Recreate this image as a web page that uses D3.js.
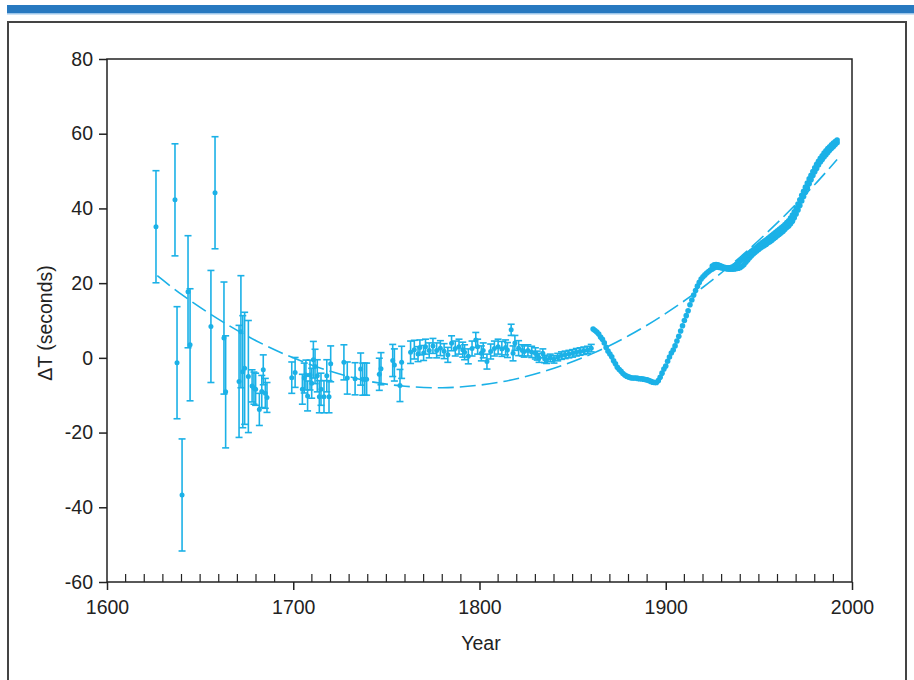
<!DOCTYPE html>
<html lang="en">
<head>
    <meta charset="UTF-8">
    <title>Delta T</title>
    <script src="https://d3js.org/d3.v7.min.js"></script>
    <style>
        body { margin: 0; background: #fff; }
        svg { display: block; }
        text { font-family: "Liberation Sans", Arial, sans-serif; fill: #222; }
    </style>
</head>
<body>
    <div id="chart"></div>

    <script>
        const width = 914;
        const height = 680;
        const col = "#1bb1e7";

        // historical observations with error bars: year, delta T, error
        const obsYears = [1626.3, 1636.5, 1637.6, 1640.3, 1643.5, 1644.6, 1655.8, 1658.0, 1662.8, 1663.7,
            1670.9, 1671.9, 1672.9, 1673.9, 1675.9, 1677.9, 1678.9, 1679.8, 1681.8, 1683.1,
            1683.9, 1685.0, 1685.9,
            1699.2, 1701.0, 1704.9, 1705.9, 1706.8, 1707.7, 1709.0, 1709.9, 1710.8, 1711.7,
            1712.9, 1714.0, 1714.9, 1716.5, 1718.0, 1719.2, 1720.1, 1727.2, 1729.0, 1733.2,
            1736.2, 1737.3, 1738.4, 1739.4, 1746.2, 1747.1, 1753.4, 1754.3, 1757.3, 1758.2,
            1763, 1765, 1767, 1768, 1770, 1771, 1773, 1775, 1777, 1779, 1781, 1783, 1785, 1787,
            1789, 1791, 1792, 1794, 1796, 1798, 1799, 1801, 1802, 1804, 1806, 1808, 1810, 1812,
            1814, 1815, 1817, 1818, 1819, 1821, 1823, 1824, 1826, 1828, 1830, 1831, 1832, 1834,
            1835, 1836, 1838, 1840, 1842, 1844, 1846, 1848, 1850, 1852, 1854, 1856, 1858, 1860];
        const obsValues = [35.1, 42.3, -1.3, -36.7, 17.7, 3.5, 8.4, 44.2, 5.3, -9.1,
            -6.3, 7.0, -3.7, -2.8, -5.0, -7.5, -8.1, -8.4, -13.8, -9.0,
            -3.2, -9.5, -10.6,
            -5.3, -3.9, -8.4, -5.4, -4.6, -10.2, -4.6, -6.8, -0.5, -2.3,
            -4.8, -10.4, -8.4, -10.4, -4.8, -10.4, -1.6, -1.2, -5.4, -5.6,
            -3.0, -5.7, -5.7, -5.7, -4.4, -2.9, -0.7, -1.9, -7.4, -1.2,
            1.5, 2.2, 1.0, 2.8, 1.3, 3.0, 2.0, 3.2, 2.0, 2.6, 1.8, 0.8, 3.9, 2.5,
            3.0, 2.2, 1.5, 0.4, 2.5, 4.8, 3.0, 1.2, 2.0, -1.0, 1.7, 2.5, 3.0, 2.4,
            2.8, 2.1, 7.5, 1.2, 4.0, 2.6, 2.0, 1.7, 2.0, 1.6, 1.2, 0.6, 0.0, 1.2,
            -0.3, -0.5, 0.0, -0.4, 0.2, 0.6, 0.8, 1.0, 1.2, 1.5, 1.7, 1.9, 2.1, 2.6];
        const obsErrors = [15, 15, 15, 15, 15, 15, 15, 15, 15, 15,
            15, 15, 15, 15, 15, 4.3, 4.3, 4.3, 4.3, 4.3,
            4, 4, 4,
            4.2, 4, 4, 4, 4, 4, 4, 4, 4.9, 4.6,
            4.3, 4.3, 4.3, 4.3, 4.3, 4.3, 4.8, 4.7, 4.3, 4.3,
            4.3, 4.3, 4.3, 4.3, 4.3, 4.3, 4.3, 4.3, 4.3, 4.3,
            3, 2.5, 2, 2, 2, 2, 2, 2, 2, 2, 2, 2, 2, 2,
            2, 2, 2, 2, 2, 2, 2, 2, 2, 2, 2, 2, 2, 2,
            2, 2, 1.5, 2, 2, 2, 1.5, 1.5, 1.5, 1.5, 1.5, 1.2, 1.2, 1.2,
            1, 1, 1, 1, 1, 1, 1, 1, 1, 1, 1, 1, 1, 1];

        // annual values 1861-1992
        const modernStart = 1861;
        const modernValues = [7.7, 7.3, 6.9, 6.4, 5.6, 5.0, 4.0, 2.8, 1.8, 1.0,
            0.3, -0.8, -1.6, -2.5, -3.1, -3.6, -4.2, -4.6, -4.9, -5.1,
            -5.3, -5.4, -5.4, -5.4, -5.5, -5.6, -5.6, -5.7, -5.8, -5.9,
            -6.1, -6.3, -6.5, -6.6, -6.6, -6.1, -5.2, -4.1, -3.0, -2.2,
            -0.9, 0.2, 1.3, 2.1, 3.2, 4.5, 5.8, 7.2, 8.6, 10.0,
            11.3, 12.6, 14.2, 15.5, 16.8, 18.0, 19.2, 20.2, 21.1, 21.7,
            22.2, 22.7, 23.1, 23.5, 23.8, 24.1, 24.3, 24.3, 24.2, 24.1,
            24.0, 23.9, 23.8, 23.7, 23.7, 23.7, 23.8, 23.9, 24.0, 24.2,
            24.5, 25.0, 25.6, 26.2, 26.8, 27.3, 27.8, 28.3, 28.7, 29.1,
            29.5, 29.8, 30.1, 30.4, 30.8, 31.1, 31.5, 31.9, 32.3, 32.7,
            33.1, 33.5, 33.9, 34.4, 34.9, 35.3, 35.9, 36.6, 37.5, 38.5,
            39.6, 40.8, 42.0, 43.2, 44.3, 45.5, 46.6, 47.7, 48.8, 49.8,
            50.7, 51.6, 52.4, 53.1, 53.8, 54.4, 55.0, 55.6, 56.1, 56.6,
            57.1, 57.6];

        // second, slightly higher track 1925-1992
        const upperStart = 1925;
        const upperValues = [24.6, 24.9, 25.0, 24.9, 24.7, 24.5, 24.3, 24.2, 24.1, 24.1,
            24.2, 24.4, 24.7, 25.1, 25.5, 26.0, 26.4, 26.9, 27.3, 27.7,
            28.1, 28.5, 28.9, 29.3, 29.7, 30.1, 30.5, 30.9, 31.3, 31.6,
            32.0, 32.4, 32.8, 33.2, 33.6, 34.0, 34.4, 34.8, 35.2, 35.7,
            36.2, 36.7, 37.4, 38.2, 39.1, 40.1, 41.2, 42.3, 43.5, 44.6,
            45.7, 46.8, 47.9, 48.9, 49.9, 50.9, 51.8, 52.6, 53.4, 54.1,
            54.8, 55.4, 56.0, 56.5, 57.0, 57.5, 57.9, 58.3];

        // dashed fitted curve
        const fitYears = [1627, 1640, 1660, 1680, 1700, 1720, 1740, 1760, 1780, 1800,
            1820, 1840, 1860, 1880, 1900, 1920, 1940, 1960, 1980, 1992];
        const fitValues = [22.0, 17.0, 10.3, 4.6, 0.0, -3.6, -6.2, -7.6, -8.0, -7.3,
            -5.6, -2.8, 1.0, 5.9, 11.9, 18.9, 27.0, 36.2, 46.4, 53.1];

        const yTicks = [-60, -40, -20, 0, 20, 40, 60, 80];
        const xTicks = [1600, 1700, 1800, 1900, 2000];

        const svg = d3.select("#chart").append("svg")
            .attr("width", width)
            .attr("height", height);

        // header band and frame
        svg.append("rect").attr("x", 7).attr("y", 5).attr("width", 907).attr("height", 9).attr("fill", "#2879c0");
        svg.append("rect").attr("x", 7).attr("y", 13).attr("width", 907).attr("height", 1.5).attr("fill", "#9cc6ea");
        svg.append("rect").attr("x", 8).attr("y", 22).attr("width", 898).attr("height", 700)
            .attr("fill", "none").attr("stroke", "#444").attr("stroke-width", 2);

        const x = d3.scaleLinear().domain([1600, 2000]).range([107, 852]);
        const y = d3.scaleLinear().domain([-60, 80]).range([582, 59]);

        // plot box
        svg.append("rect").attr("x", x(1600)).attr("y", y(80))
            .attr("width", x(2000) - x(1600)).attr("height", y(-60) - y(80))
            .attr("fill", "none").attr("stroke", "#222").attr("stroke-width", 1.5);

        const fontSize = "19.5px";

        // y axis
        const yAxis = svg.append("g")
            .attr("transform", `translate(${x(1600)},0)`)
            .call(d3.axisLeft(y).tickValues(yTicks).tickSize(8).tickPadding(6).tickFormat(d => String(d)));
        yAxis.select(".domain").remove();
        yAxis.selectAll("line").attr("stroke", "#222").attr("stroke-width", 1.5);
        yAxis.selectAll("text").style("font-size", fontSize).attr("fill", "#222")
            .style("font-family", '"Liberation Sans", Arial, sans-serif');

        // x axis: minor ticks inward, major ticks outward
        const minor = d3.range(1610, 2000, 10).filter(d => d % 100 !== 0);
        svg.append("g").selectAll("line").data(minor).join("line")
            .attr("x1", d => x(d)).attr("x2", d => x(d))
            .attr("y1", y(-60)).attr("y2", y(-60) - 8)
            .attr("stroke", "#222").attr("stroke-width", 1.2);
        const xAxis = svg.append("g")
            .attr("transform", `translate(0,${y(-60)})`)
            .call(d3.axisBottom(x).tickValues(xTicks).tickSize(8).tickPadding(10).tickFormat(d => String(d)));
        xAxis.select(".domain").remove();
        xAxis.selectAll("line").attr("stroke", "#222").attr("stroke-width", 1.5);
        xAxis.selectAll("text").style("font-size", fontSize).attr("fill", "#222")
            .style("font-family", '"Liberation Sans", Arial, sans-serif');

        svg.append("text").attr("x", 481).attr("y", 650)
            .attr("text-anchor", "middle").style("font-size", fontSize).text("Year");
        svg.append("text").attr("transform", "translate(52,323) rotate(-90)")
            .attr("text-anchor", "middle").style("font-size", fontSize).text("ΔT (seconds)");

        // dashed fit
        const fitData = fitYears.map((d, i) => [d, fitValues[i]]);
        svg.append("path").datum(fitData)
            .attr("d", d3.line().x(d => x(d[0])).y(d => y(d[1])).curve(d3.curveCatmullRom))
            .attr("fill", "none").attr("stroke", col).attr("stroke-width", 1.6)
            .attr("stroke-dasharray", "16,6");

        // error bars
        const obs = obsYears.map((d, i) => ({ t: d, v: obsValues[i], e: obsErrors[i] }));
        const eb = svg.append("g").attr("stroke", col).attr("stroke-width", 1.6);
        eb.selectAll("line.v").data(obs).join("line").attr("class", "v")
            .attr("x1", d => x(d.t)).attr("x2", d => x(d.t))
            .attr("y1", d => y(d.v + d.e)).attr("y2", d => y(d.v - d.e));
        eb.selectAll("line.t").data(obs).join("line").attr("class", "t")
            .attr("x1", d => x(d.t) - 3.5).attr("x2", d => x(d.t) + 3.5)
            .attr("y1", d => y(d.v + d.e)).attr("y2", d => y(d.v + d.e));
        eb.selectAll("line.b").data(obs).join("line").attr("class", "b")
            .attr("x1", d => x(d.t) - 3.5).attr("x2", d => x(d.t) + 3.5)
            .attr("y1", d => y(d.v - d.e)).attr("y2", d => y(d.v - d.e));
        svg.append("g").selectAll("circle").data(obs).join("circle")
            .attr("cx", d => x(d.t)).attr("cy", d => y(d.v)).attr("r", 2.5)
            .attr("fill", col);

        // modern annual values
        svg.append("g").selectAll("circle").data(modernValues).join("circle")
            .attr("cx", (d, i) => x(modernStart + i)).attr("cy", d => y(d)).attr("r", 2.8)
            .attr("fill", col);
        svg.append("g").selectAll("circle").data(upperValues).join("circle")
            .attr("cx", (d, i) => x(upperStart + i)).attr("cy", d => y(d)).attr("r", 2.8)
            .attr("fill", col);
    </script>
</body>
</html>
